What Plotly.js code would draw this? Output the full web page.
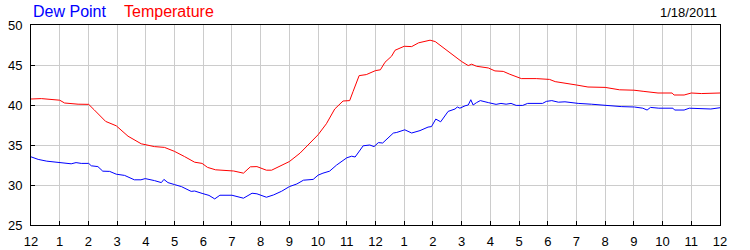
<!DOCTYPE html>
<html>
<head>
<meta charset="utf-8">
<script src="https://cdn.plot.ly/plotly-3.0.1.min.js"></script>
<style>html,body{margin:0;padding:0;background:#fff;}#chart{width:750px;height:250px;}</style>
</head>
<body>
<div id="chart"></div>
<script>
// Hours since midnight (1/18/2011)
const tempHours = [0, 0.36, 1.0, 1.17, 1.64, 2.01, 2.2, 2.6, 2.97, 3.38, 3.84, 3.98, 4.3, 4.65, 5.0, 5.35, 5.7, 5.96, 6.15, 6.43, 6.84, 7.06, 7.4, 7.64, 7.87, 8.03, 8.2, 8.38, 8.67, 9.0, 9.37, 9.71, 10.0, 10.29, 10.58, 10.87, 11.1, 11.22, 11.43, 11.68, 12.0, 12.17, 12.33, 12.56, 12.68, 13.0, 13.26, 13.5, 13.73, 13.9, 14.08, 14.26, 14.49, 14.84, 15.0, 15.23, 15.35, 15.52, 15.93, 16.16, 16.45, 16.68, 17.08, 17.6, 18.06, 18.26, 18.6, 19.0, 19.4, 20.0, 20.5, 21.0, 21.35, 21.84, 22.33, 22.4, 22.75, 23.0, 23.35, 23.7, 24.0];
const temperature = [40.75, 40.8, 40.6, 40.25, 40.1, 40.08, 39.4, 37.95, 37.4, 36.1, 35.15, 35.05, 34.8, 34.7, 34.2, 33.55, 32.85, 32.7, 32.2, 31.9, 31.85, 31.75, 31.48, 32.27, 32.3, 32.1, 31.85, 31.85, 32.4, 32.93, 33.98, 35.24, 36.28, 37.66, 39.5, 40.5, 40.55, 41.7, 43.67, 43.8, 44.3, 44.4, 45.34, 46.1, 46.84, 47.34, 47.3, 47.77, 48.0, 48.1, 47.93, 47.43, 46.84, 45.76, 45.43, 44.93, 45.1, 44.84, 44.63, 44.26, 44.2, 43.84, 43.3, 43.3, 43.2, 42.92, 42.75, 42.5, 42.25, 42.2, 41.9, 41.85, 41.7, 41.5, 41.5, 41.25, 41.25, 41.5, 41.43, 41.47, 41.5];

const dewHours = [0, 0.25, 0.55, 1.0, 1.4, 1.57, 1.75, 2.01, 2.1, 2.33, 2.5, 2.74, 2.97, 3.26, 3.6, 3.83, 3.98, 4.3, 4.54, 4.63, 4.77, 5.0, 5.24, 5.58, 5.7, 5.96, 6.2, 6.4, 6.58, 7.0, 7.4, 7.7, 7.87, 8.2, 8.45, 8.73, 9.0, 9.26, 9.49, 9.83, 10.0, 10.17, 10.4, 10.64, 11.0, 11.17, 11.29, 11.57, 11.8, 11.95, 12.1, 12.25, 12.44, 12.62, 12.74, 13.02, 13.26, 13.55, 13.83, 13.95, 14.1, 14.27, 14.53, 14.77, 14.85, 14.94, 15.12, 15.23, 15.32, 15.4, 15.52, 15.65, 15.93, 16.2, 16.37, 16.55, 16.72, 16.9, 17.13, 17.3, 17.82, 17.95, 18.14, 18.37, 18.6, 19.06, 19.52, 20.1, 20.56, 21.02, 21.31, 21.46, 21.58, 21.87, 22.36, 22.42, 22.75, 22.93, 23.45, 23.68, 24.0];
const dewPoint = [33.52, 33.2, 32.98, 32.85, 32.65, 32.8, 32.7, 32.7, 32.4, 32.3, 31.73, 31.7, 31.35, 31.2, 30.65, 30.65, 30.8, 30.55, 30.3, 30.7, 30.3, 30.05, 29.8, 29.2, 29.25, 28.95, 28.7, 28.26, 28.72, 28.72, 28.35, 28.97, 28.9, 28.47, 28.76, 29.22, 29.8, 30.13, 30.6, 30.7, 31.23, 31.48, 31.73, 32.48, 33.4, 33.6, 33.5, 34.9, 35.0, 34.8, 35.3, 35.25, 35.87, 36.49, 36.57, 36.9, 36.5, 36.8, 37.24, 37.3, 38.24, 37.9, 39.2, 39.5, 39.75, 39.6, 39.9, 40.0, 40.66, 40.0, 40.3, 40.55, 40.3, 40.08, 40.2, 40.1, 40.2, 39.95, 39.95, 40.2, 40.2, 40.45, 40.55, 40.35, 40.4, 40.2, 40.1, 39.92, 39.8, 39.75, 39.6, 39.37, 39.7, 39.6, 39.6, 39.37, 39.37, 39.6, 39.58, 39.5, 39.66];

const tickHours = [0,1,2,3,4,5,6,7,8,9,10,11,12,13,14,15,16,17,18,19,20,21,22,23,24];
const tickLabels = ['12','1','2','3','4','5','6','7','8','9','10','11','12','1','2','3','4','5','6','7','8','9','10','11','12'];
const yTicks = [25, 30, 35, 40, 45, 50];
const dateLabel = '1/18/2011';
const seriesNames = ['Dew Point', 'Temperature'];

const font = 'Arial, "Liberation Sans", sans-serif';

const traces = [
  {x: dewHours, y: dewPoint, name: seriesNames[0], type: 'scatter', mode: 'lines',
   line: {color: '#0000ff', width: 1}, hoverinfo: 'skip'},
  {x: tempHours, y: temperature, name: seriesNames[1], type: 'scatter', mode: 'lines',
   line: {color: '#ff0000', width: 1}, hoverinfo: 'skip'}
];

const layout = {
  width: 750, height: 250,
  margin: {l: 31, r: 30, t: 25, b: 25, pad: 0},
  paper_bgcolor: '#ffffff', plot_bgcolor: '#ffffff',
  showlegend: false,
  font: {family: font, size: 13, color: '#000000'},
  xaxis: {
    range: [0, 24], tickmode: 'array', tickvals: tickHours, ticktext: tickLabels,
    showgrid: true, gridcolor: '#cccccc', gridwidth: 1, zeroline: false,
    showline: true, linecolor: '#000000', linewidth: 1, mirror: true,
    ticks: 'inside', ticklen: 4, tickcolor: '#000000', ticklabelstandoff: 4,
    tickfont: {family: font, size: 13, color: '#000000'}, fixedrange: true
  },
  yaxis: {
    range: [25, 50], tickmode: 'array', tickvals: yTicks,
    showgrid: true, gridcolor: '#cccccc', gridwidth: 1, zeroline: false,
    showline: true, linecolor: '#000000', linewidth: 1, mirror: true,
    ticks: 'inside', ticklen: 4, tickcolor: '#000000', ticklabelstandoff: 5,
    tickfont: {family: font, size: 13, color: '#000000'}, fixedrange: true
  },
  yaxis2: {
    range: [25, 50], tickmode: 'array', tickvals: yTicks, overlaying: 'y', side: 'right',
    showgrid: false, zeroline: false, showline: true, linecolor: '#000000', linewidth: 1,
    ticks: 'inside', ticklen: 4, tickcolor: '#000000', ticklabelstandoff: 4,
    tickfont: {family: font, size: 13, color: '#000000'}, fixedrange: true
  },
  annotations: [
    {xref: 'paper', yref: 'paper', x: 0.0, y: 1, yshift: 3, xanchor: 'left', yanchor: 'bottom',
     text: seriesNames[0], showarrow: false, font: {family: font, size: 16, color: '#0000ff'}},
    {xref: 'paper', yref: 'paper', x: 0.132, y: 1, yshift: 3, xanchor: 'left', yanchor: 'bottom',
     text: seriesNames[1], showarrow: false, font: {family: font, size: 16, color: '#ff0000'}},
    {xref: 'paper', yref: 'paper', x: 1, xshift: -1, y: 1, yshift: 3, xanchor: 'right', yanchor: 'bottom',
     text: dateLabel, showarrow: false, font: {family: font, size: 13, color: '#000000'}}
  ]
};

Plotly.newPlot('chart', traces, layout, {staticPlot: true, displayModeBar: false});
</script>
</body>
</html>
